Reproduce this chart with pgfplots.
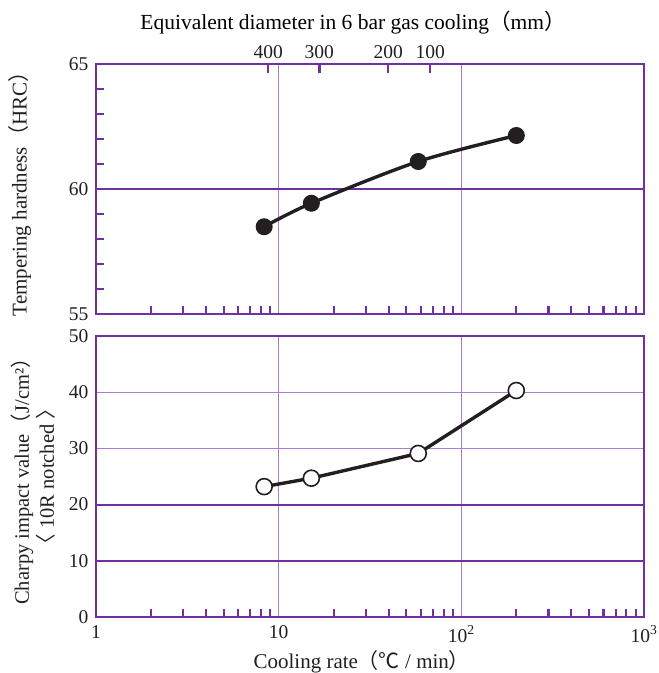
\documentclass[border=0pt]{standalone}
\usepackage{pgfplots}
\pgfplotsset{compat=1.18}
\usepackage{fontspec}
\setmainfont{Liberation Serif}
\newfontfamily\cjk{Noto Sans CJK JP}
\definecolor{frame}{RGB}{112,48,160}
\definecolor{gridc}{RGB}{170,125,210}
\definecolor{ink}{RGB}{35,31,32}
\pgfplotsset{
  /pgf/number format/assume math mode=true,
  mychart/.style={
    scale only axis, width=548pt, xmin=1, xmax=1000,
    axis line style={frame, line width=2.4pt},
    tick style={frame, line width=2.2pt},
    major tick length=0pt, minor tick length=8pt,
    tick align=inside,
    xtick={1,10,100,1000},
    minor xtick={2,3,4,5,6,7,8,9,20,30,40,50,60,70,80,90,200,300,400,500,600,700,800,900},
    xtick pos=left, ytick pos=left,
    xmajorgrids, ymajorgrids,
    major grid style={gridc, line width=1.2pt},
    tick label style={font=\fontsize{19.5}{19.5}\selectfont, text=ink},
    yticklabel style={xshift=-4pt},
    clip=false,
  },
}
\begin{document}
\begin{tikzpicture}
\useasboundingbox (-96pt,-56pt) rectangle (563pt,617pt);
% bottom axis
\begin{axis}[xmode=log, mychart, at={(0pt,0pt)}, anchor=south west, height=281pt,
  ymin=0, ymax=50, ytick={0,30,40,50},
  extra y ticks={10,20},
  extra y tick style={major grid style={frame, line width=1.9pt}},
  xticklabels={1,10,10\textsuperscript{2},10\textsuperscript{3}},
  xticklabel style={yshift=-5pt},
  every axis x label/.style={at={(axis description cs:0.485,0)}, yshift=-51pt, anchor=base,
    font=\fontsize{21}{24}\selectfont, text=ink},
  xlabel={Cooling rate{\cjk （℃} / min{\cjk ）}},
  every axis y label/.style={at={(axis description cs:-0.114,0.5)}, anchor=center, rotate=90, align=center,
    font=\fontsize{20.5}{25}\selectfont, text=ink},
  ylabel={Charpy impact value{\cjk （}J/cm²{\cjk ）}\\{\cjk 〈} 10R notched {\cjk 〉}},
]
\addplot[ink, line width=3.4pt, mark=*, mark size=8pt,
  mark options={fill=white, draw=ink, line width=1.6pt}]
  coordinates {(8.33,23.2) (15.1,24.7) (58.1,29.1) (200,40.3)};
\end{axis}
% top axis
\begin{axis}[xmode=log, mychart, at={(0pt,303pt)}, anchor=south west, height=250pt,
  ymin=55, ymax=65, ytick={55,65},
  minor ytick={56,57,58,59,61,62,63,64},
  extra y ticks={60},
  extra y tick style={major grid style={frame, line width=1.9pt}},
  xticklabels={},
  every axis y label/.style={at={(axis description cs:-0.139,0.5)}, anchor=center, rotate=90,
    font=\fontsize{21}{24}\selectfont, text=ink},
  ylabel={Tempering hardness{\cjk （}HRC{\cjk ）}},
]
\addplot[ink, line width=3.4pt, smooth, mark=*, mark size=8pt,
  mark options={fill=ink, draw=ink, line width=1pt}]
  coordinates {(8.33,58.49) (15.1,59.43) (58.1,61.1) (200,62.14)};
\end{axis}
% secondary top axis: equivalent diameter
\begin{axis}[xmode=log, scale only axis, width=548pt, height=250pt, at={(0pt,303pt)}, anchor=south west,
  xmin=1, xmax=1000, ymin=0, ymax=1,
  axis line style={draw=none}, ytick=\empty, xminorticks=false,
  xtick={8.76,16.7,39.8,67.6}, xticklabels={400,300,200,100},
  xtick pos=right, xticklabel pos=right,
  major tick length=9pt, tick align=inside,
  tick style={frame, line width=2.4pt},
  tick label style={font=\fontsize{19.5}{19.5}\selectfont, text=ink},
  xticklabel style={yshift=2pt},
  every axis title/.style={at={(axis description cs:0.469,1)}, anchor=base, yshift=34pt},
  title={\fontsize{21.5}{24}\selectfont Equivalent diameter in 6 bar gas cooling{\cjk （}mm{\cjk ）}},
]
\end{axis}
\end{tikzpicture}
\end{document}
